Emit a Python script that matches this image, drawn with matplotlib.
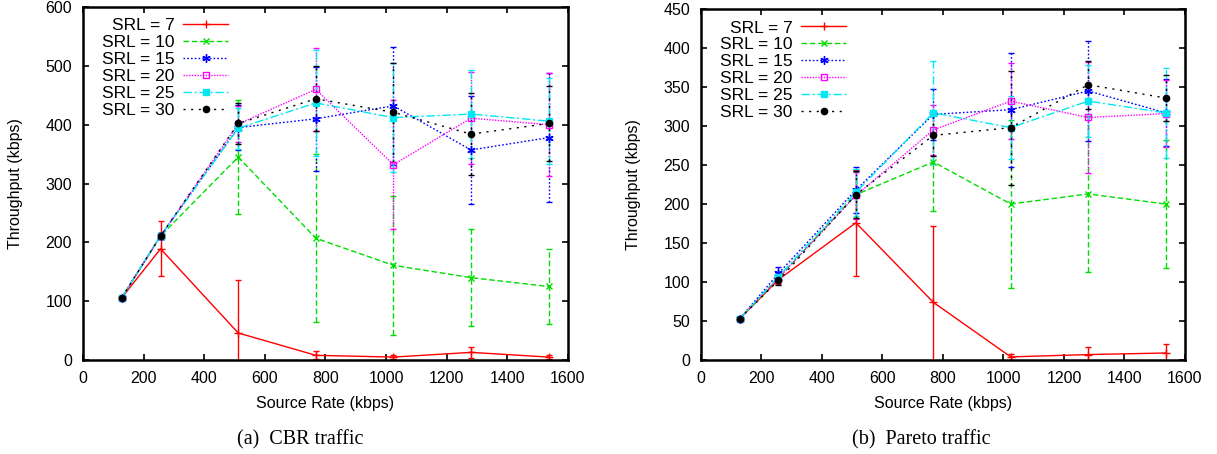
import matplotlib
matplotlib.use("Agg")
import matplotlib.pyplot as plt
from matplotlib.lines import Line2D

plt.rcParams['font.family'] = ['Liberation Sans', 'DejaVu Sans']

# source rates (kbps)
rates = [128, 256, 512, 768, 1024, 1280, 1536]
srl_labels = ['SRL = 7', 'SRL = 10', 'SRL = 15', 'SRL = 20', 'SRL = 25', 'SRL = 30']

# CBR traffic: mean throughput and error half-widths
cbr_mean = [
    [106, 189, 46, 8, 5, 13, 5],
    [106, 211, 345, 207, 161, 140, 125],
    [106, 211, 395, 410, 432, 357, 378],
    [106, 211, 401, 460, 332, 411, 400],
    [106, 211, 394, 437, 412, 418, 406],
    [106, 211, 402, 444, 421, 384, 402],
]
cbr_err = [
    [2, 47, 90, 7, 3, 9, 4],
    [2, 5, 97, 143, 118, 83, 64],
    [2, 5, 38, 88, 100, 92, 109],
    [2, 5, 30, 70, 110, 78, 87],
    [2, 5, 35, 90, 92, 75, 73],
    [2, 5, 35, 55, 84, 70, 64],
]

# Pareto traffic
par_mean = [
    [53, 103, 176, 74, 4, 7, 9],
    [53, 105, 212, 254, 200, 213, 200],
    [53, 111, 218, 315, 321, 345, 317],
    [53, 105, 211, 295, 332, 311, 316],
    [53, 107, 215, 317, 298, 332, 317],
    [53, 102, 212, 288, 298, 353, 336],
]
par_err = [
    [1, 5, 68, 98, 4, 10, 12],
    [1, 6, 30, 63, 108, 100, 82],
    [1, 8, 30, 33, 73, 64, 43],
    [1, 6, 30, 32, 49, 71, 43],
    [1, 6, 30, 66, 40, 46, 58],
    [1, 6, 30, 27, 73, 31, 29],
]

colors = ['#ff0000', '#00dd00', '#0000ff', '#ff00ff', '#00e8f0', '#000000']
styles = ['-', (0, (4, 2)), (0, (1.2, 1.5)), (0, (1, 1)), (0, (6, 2, 1.5, 2)), (0, (1.5, 4))]
markers = ['+', 'x', (6, 2, 0), 's', 's', 'o']
mfaces = [None, None, None, 'none', None, None]
msizes = [6, 5, 6, 5, 4.5, 4.5]


def draw(ax, means, errs, ymax, yticks):
    handles = []
    for i in range(len(srl_labels)):
        style = dict(color=colors[i], linestyle=styles[i], linewidth=1.0, marker=markers[i],
                     markersize=msizes[i], markeredgewidth=1.0,
                     markerfacecolor=mfaces[i] if mfaces[i] else colors[i])
        eb = ax.errorbar(rates, means[i], yerr=errs[i], capsize=2.5, elinewidth=1.0, **style)
        # gnuplot draws the error bars in the series' dash pattern
        for c in eb[2]:
            c.set_linestyle(styles[i])
        handles.append(Line2D([0, 1], [0, 0], **style))
    ax.set_xlim(0, 1600)
    ax.set_ylim(0, ymax)
    ax.set_xticks(range(0, 1601, 200))
    ax.set_yticks(yticks)
    ax.tick_params(direction='in', length=4, width=1.2, labelsize=11.5, top=True, right=True, pad=8)
    for s in ax.spines.values():
        s.set_linewidth(1.8)
    ax.set_xlabel('Source Rate (kbps)', fontsize=11.5, labelpad=7)
    ax.set_ylabel('Throughput (kbps)', fontsize=11.5, labelpad=16)
    ax.legend(handles, srl_labels, loc='upper left', frameon=False, markerfirst=False,
              fontsize=12.5, handlelength=2.6, handletextpad=0.5, labelspacing=0.1,
              borderaxespad=0.25, numpoints=1, bbox_to_anchor=(0.016, 1.0))


fig = plt.figure(figsize=(12.17, 4.54), dpi=100)
ax1 = fig.add_axes([0.0682, 0.207, 0.3985, 0.7776])
ax2 = fig.add_axes([0.576, 0.207, 0.3977, 0.773])

draw(ax1, cbr_mean, cbr_err, 600, range(0, 601, 100))
draw(ax2, par_mean, par_err, 450, range(0, 451, 50))

fig.text(0.2465, 0.022, '(a)  CBR traffic', ha='center', fontsize=14.5, family='Liberation Serif')
fig.text(0.757, 0.022, '(b)  Pareto traffic', ha='center', fontsize=14.5, family='Liberation Serif')

fig.savefig('out.png', dpi=100)
